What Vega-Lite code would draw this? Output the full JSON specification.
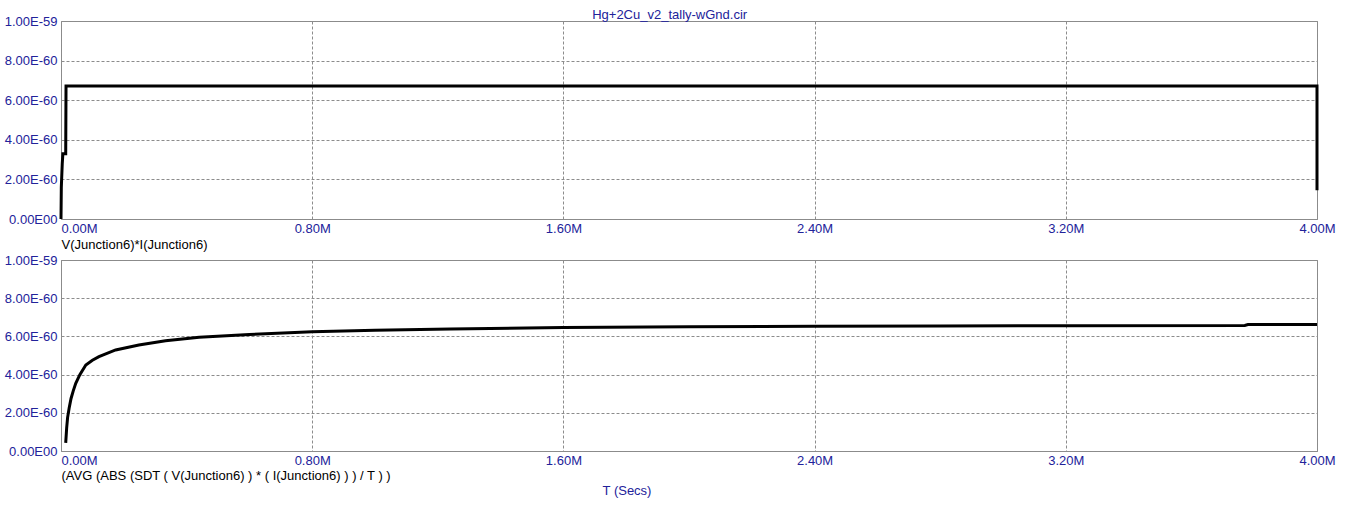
{
  "$schema": "https://vega.github.io/schema/vega-lite/v6.json",
  "background": "white",
  "padding": {"left": 3, "top": 8, "right": 5, "bottom": 5},
  "title": {"text": "Hg+2Cu_v2_tally-wGnd.cir", "font": "Liberation Sans", "fontSize": 13, "fontWeight": "normal", "color": "#22229a", "anchor": "middle", "offset": -7},
  "config": {
    "view": {"stroke": "#8a8a8a", "strokeWidth": 1},
    "axis": {
      "labelFont": "Liberation Sans", "labelFontSize": 13, "labelColor": "#22229a",
      "titleFont": "Liberation Sans", "titleFontSize": 13, "titleFontWeight": "normal", "titleColor": "#000000",
      "domain": false, "ticks": false,
      "gridColor": "#8c8c8c", "gridDash": [3, 2], "gridWidth": 1
    },
    "concat": {"spacing": 1}
  },
  "datasets": {
    "top": [
      {"i": 0, "t_M": 0.0, "v": 0},
      {"i": 1, "t_M": 0.001, "v": 1.6e-60},
      {"i": 2, "t_M": 0.004, "v": 2.8e-60},
      {"i": 3, "t_M": 0.006, "v": 3.3e-60},
      {"i": 4, "t_M": 0.015, "v": 3.3e-60},
      {"i": 5, "t_M": 0.016, "v": 6.72e-60},
      {"i": 6, "t_M": 4.0, "v": 6.72e-60},
      {"i": 7, "t_M": 4.0, "v": 1.45e-60}
    ],
    "bottom": [
      {"i": 0, "t_M": 0.015, "v": 0.43e-60},
      {"i": 1, "t_M": 0.018, "v": 1.2e-60},
      {"i": 2, "t_M": 0.021, "v": 1.75e-60},
      {"i": 3, "t_M": 0.026, "v": 2.25e-60},
      {"i": 4, "t_M": 0.032, "v": 2.75e-60},
      {"i": 5, "t_M": 0.039, "v": 3.15e-60},
      {"i": 6, "t_M": 0.047, "v": 3.54e-60},
      {"i": 7, "t_M": 0.06, "v": 4.0e-60},
      {"i": 8, "t_M": 0.079, "v": 4.5e-60},
      {"i": 9, "t_M": 0.1, "v": 4.75e-60},
      {"i": 10, "t_M": 0.121, "v": 4.94e-60},
      {"i": 11, "t_M": 0.174, "v": 5.29e-60},
      {"i": 12, "t_M": 0.248, "v": 5.55e-60},
      {"i": 13, "t_M": 0.333, "v": 5.77e-60},
      {"i": 14, "t_M": 0.44, "v": 5.95e-60},
      {"i": 15, "t_M": 0.6, "v": 6.1e-60},
      {"i": 16, "t_M": 0.8, "v": 6.24e-60},
      {"i": 17, "t_M": 1.0, "v": 6.32e-60},
      {"i": 18, "t_M": 1.24, "v": 6.39e-60},
      {"i": 19, "t_M": 1.6, "v": 6.47e-60},
      {"i": 20, "t_M": 2.0, "v": 6.5e-60},
      {"i": 21, "t_M": 2.4, "v": 6.53e-60},
      {"i": 22, "t_M": 2.8, "v": 6.55e-60},
      {"i": 23, "t_M": 3.2, "v": 6.56e-60},
      {"i": 24, "t_M": 3.77, "v": 6.57e-60},
      {"i": 25, "t_M": 3.78, "v": 6.62e-60},
      {"i": 26, "t_M": 4.0, "v": 6.62e-60}
    ]
  },
  "vconcat": [
    {
      "width": 1256,
      "height": 198,
      "data": {"name": "top"},
      "mark": {"type": "line", "color": "#000000", "strokeWidth": 3, "clip": false},
      "encoding": {
        "order": {"field": "i", "type": "quantitative"},
        "x": {
          "field": "t_M", "type": "quantitative",
          "scale": {"domain": [0, 4], "nice": false, "zero": false},
          "axis": {
            "values": [0, 0.8, 1.6, 2.4, 3.2, 4.0],
            "labelExpr": "format(datum.value, '.2f') + 'M'",
            "labelFlush": false,
            "labelAlign": {"expr": "datum.value == 0 ? 'left' : 'center'"},
            "labelPadding": 3,
            "title": "V(Junction6)*I(Junction6)",
            "titleAnchor": "start",
            "titleAlign": "left",
            "titlePadding": 3
          }
        },
        "y": {
          "field": "v", "type": "quantitative",
          "scale": {"domain": [0, 1e-59], "nice": false},
          "axis": {
            "values": [0, 2e-60, 4e-60, 6e-60, 8e-60, 1e-59],
            "labelExpr": "datum.value == 0 ? '0.00E00' : upper(format(datum.value, '.2e'))",
            "labelPadding": 4,
            "labelFlush": false,
            "title": null
          }
        }
      }
    },
    {
      "width": 1256,
      "height": 191,
      "data": {"name": "bottom"},
      "title": {"text": "T (Secs)", "orient": "bottom", "anchor": "middle", "font": "Liberation Sans", "fontSize": 13, "fontWeight": "normal", "color": "#22229a", "dx": -62, "offset": 3},
      "mark": {"type": "line", "color": "#000000", "strokeWidth": 3, "clip": false},
      "encoding": {
        "order": {"field": "i", "type": "quantitative"},
        "x": {
          "field": "t_M", "type": "quantitative",
          "scale": {"domain": [0, 4], "nice": false, "zero": false},
          "axis": {
            "values": [0, 0.8, 1.6, 2.4, 3.2, 4.0],
            "labelExpr": "format(datum.value, '.2f') + 'M'",
            "labelFlush": false,
            "labelAlign": {"expr": "datum.value == 0 ? 'left' : 'center'"},
            "labelPadding": 3,
            "title": "(AVG (ABS (SDT ( V(Junction6) ) * ( I(Junction6) ) ) / T ) )",
            "titleAnchor": "start",
            "titleAlign": "left",
            "titlePadding": 2
          }
        },
        "y": {
          "field": "v", "type": "quantitative",
          "scale": {"domain": [0, 1e-59], "nice": false},
          "axis": {
            "values": [0, 2e-60, 4e-60, 6e-60, 8e-60, 1e-59],
            "labelExpr": "datum.value == 0 ? '0.00E00' : upper(format(datum.value, '.2e'))",
            "labelPadding": 4,
            "labelFlush": false,
            "title": null
          }
        }
      }
    }
  ]
}
